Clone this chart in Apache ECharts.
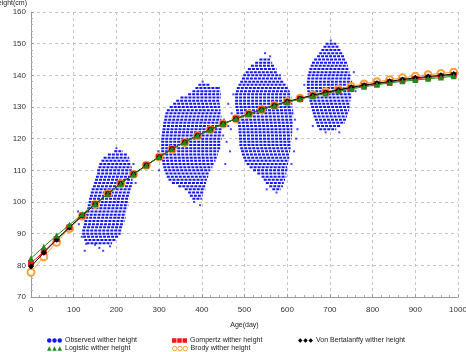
<!DOCTYPE html>
<html>
<head>
<meta charset="utf-8">
<script src="https://cdn.jsdelivr.net/npm/echarts@6/dist/echarts.min.js"></script>
<style>
  html, body { margin: 0; padding: 0; background: #fff; }
  #main { width: 466px; height: 352px; }
</style>
</head>
<body>
<div id="main"></div>
<script>
// model curves, one point every 30 days
var ages = [0, 30, 60, 90, 120, 150, 180, 210, 240, 270, 300, 330, 360, 390, 420, 450, 480,
    510, 540, 570, 600, 630, 660, 690, 720, 750, 780, 810, 840, 870, 900, 930, 960, 990]
var gompertz = [80.7, 84.3, 88.3, 92.0, 95.7, 99.3, 102.6, 105.8, 108.8, 111.6, 114.2, 116.7, 118.9, 121.0,
    122.9, 124.7, 126.3, 127.8, 129.2, 130.4, 131.6, 132.6, 133.6, 134.5, 135.3, 136.0, 136.7, 137.3,
    137.9, 138.4, 138.9, 139.3, 139.7, 140.1]
var logistic = [82.2, 85.9, 89.4, 92.8, 96.1, 99.4, 102.6, 105.7, 108.7, 111.5, 114.2, 116.7, 118.9, 121.0,
    122.9, 124.7, 126.3, 127.8, 129.2, 130.4, 131.5, 132.5, 133.4, 134.3, 135.0, 135.7, 136.4, 137.0,
    137.6, 138.1, 138.5, 138.9, 139.3, 139.7]
var bertalanffy = [79.6, 84.0, 88.1, 92.0, 95.7, 99.3, 102.6, 105.8, 108.8, 111.6, 114.2, 116.7, 118.9, 121.0,
    122.9, 124.7, 126.3, 127.8, 129.2, 130.5, 131.7, 132.7, 133.7, 134.6, 135.4, 136.2, 136.9, 137.5,
    138.1, 138.7, 139.2, 139.6, 140.0, 140.4]
var brody = [77.8, 82.7, 87.3, 91.6, 95.5, 99.2, 102.6, 105.8, 108.8, 111.6, 114.2, 116.6, 118.8, 120.9,
    122.8, 124.6, 126.3, 127.8, 129.2, 130.5, 131.7, 132.8, 133.8, 134.8, 135.7, 136.5, 137.3, 138.0,
    138.6, 139.2, 139.7, 140.2, 140.6, 141.0]

// observed heights: each row is [height, first age, last age] of a dense band of points
var visit1Rows = [
    [116, 195, 215], [115, 180, 225], [114, 170, 230], [113, 165, 232], [112, 160, 235], [111, 158, 236],
    [110, 155, 236], [109, 155, 236], [108, 152, 238], [107, 150, 238], [106, 148, 238], [105, 145, 236],
    [104, 142, 234], [103, 140, 232], [102, 138, 230], [101, 136, 230], [100, 135, 228], [99, 133, 228],
    [98, 132, 226], [97, 130, 224], [96, 128, 222], [95, 127, 222], [94, 125, 220], [93, 124, 218],
    [92, 122, 215], [91, 120, 212], [90, 120, 210], [89, 122, 205], [88, 125, 198], [87, 130, 190]
]
var visit2Rows = [
    [137, 392, 418], [136, 385, 438], [135, 378, 444], [134, 368, 445], [133, 350, 445], [132, 340, 442],
    [131, 333, 442], [130, 325, 443], [129, 318, 444], [128, 315, 444], [127, 313, 446], [126, 312, 446],
    [125, 310, 447], [124, 309, 447], [123, 308, 447], [122, 307, 447], [121, 306, 447], [120, 305, 447],
    [119, 305, 445], [118, 305, 445], [117, 305, 443], [116, 305, 440], [115, 305, 438], [114, 306, 435],
    [113, 307, 432], [112, 308, 428], [111, 310, 425], [110, 312, 420], [109, 315, 418], [108, 318, 415],
    [107, 322, 412], [106, 330, 410], [105, 345, 408], [104, 360, 408], [103, 368, 405], [102, 372, 402],
    [101, 378, 400]
]
var visit3Rows = [
    [145, 535, 560], [144, 525, 565], [143, 515, 570], [142, 508, 575], [141, 503, 578], [140, 497, 585],
    [139, 494, 588], [138, 490, 592], [137, 486, 598], [136, 482, 602], [135, 480, 606], [134, 478, 608],
    [133, 478, 610], [132, 478, 612], [131, 478, 612], [130, 479, 612], [129, 480, 614], [128, 481, 614],
    [127, 482, 614], [126, 483, 614], [125, 484, 614], [124, 485, 612], [123, 486, 612], [122, 486, 612],
    [121, 487, 611], [120, 487, 610], [119, 488, 610], [118, 488, 608], [117, 490, 608], [116, 492, 607],
    [115, 494, 606], [114, 497, 605], [113, 500, 604], [112, 505, 602], [111, 512, 600], [110, 520, 600],
    [109, 530, 598], [108, 540, 598], [107, 545, 595], [106, 550, 592], [105, 558, 590], [104, 565, 585]
]
var visit4Rows = [
    [150, 690, 715], [149, 685, 720], [148, 680, 725], [147, 675, 730], [146, 670, 735], [145, 663, 738],
    [144, 658, 740], [143, 655, 742], [142, 652, 744], [141, 650, 746], [140, 648, 748], [139, 647, 750],
    [138, 646, 752], [137, 646, 752], [136, 646, 752], [135, 647, 752], [134, 648, 750], [133, 650, 750],
    [132, 652, 748], [131, 654, 748], [130, 656, 746], [129, 658, 745], [128, 660, 742], [127, 662, 740],
    [126, 665, 738], [125, 668, 735], [124, 670, 725], [123, 675, 715]
]
// scattered single points outside the bands: [age, height]
var obsOutliers = [
    [119, 89], [129, 86.8], [150, 86.5], [126, 84.6], [169, 84.6], [160, 85.5], [185, 86], [200, 117],
    [240, 112], [245, 106], [110, 97], [112, 93],
    [440, 136], [402, 138], [452, 126], [458, 119], [462, 131], [468, 123], [455, 112], [382, 100], [396, 99],
    [300, 110], [298, 116],
    [470, 128], [474, 134], [462, 124], [450, 121], [466, 116], [548, 147], [560, 146], [552, 104], [575, 103],
    [612, 128], [618, 126], [621, 120], [616, 116], [624, 123], [610, 112],
    [702, 151], [660, 124], [690, 122], [722, 122], [756, 141], [760, 135], [640, 137]
]

var BLUE = '#1515f5'
var RED = '#f01818'
var GREEN = '#1f8a1f'
var BLACK = '#000000'
var ORANGE = '#f4a23a'
var FONT = 'Liberation Sans, Arial, sans-serif'

function zip (xs, ys) {
    return xs.map(function (x, i) { return [x, ys[i]] })
}

function renderRow (params, api) {
    var p1 = api.coord([api.value(1), api.value(0)])
    var p2 = api.coord([api.value(2), api.value(0)])
    return {
        type: 'line',
        shape: {x1: p1[0], y1: p1[1], x2: p2[0], y2: p2[1]},
        style: {stroke: BLUE, lineWidth: 2, lineDash: [3, 1]}
    }
}

function rowSeries (rows) {
    return {
        name: 'Observed wither height',
        type: 'custom',
        renderItem: renderRow,
        encode: {x: [1, 2], y: 0},
        itemStyle: {color: BLUE},
        silent: true,
        z: 1,
        data: rows
    }
}

function curveSeries (name, values, symbol, size, color, z) {
    return {
        name: name,
        type: 'line',
        data: zip(ages, values),
        symbol: symbol,
        symbolSize: size,
        showAllSymbol: true,
        lineStyle: {width: 1, color: color},
        itemStyle: {color: color},
        z: z
    }
}

var ICON_CIRCLES = 'path://M0,3a3,3 0 1,0 6,0a3,3 0 1,0 -6,0Z M7,3a3,3 0 1,0 6,0a3,3 0 1,0 -6,0Z M14,3a3,3 0 1,0 6,0a3,3 0 1,0 -6,0Z'
var ICON_SQUARES = 'path://M0,0h6v6h-6Z M7,0h6v6h-6Z M14,0h6v6h-6Z'
var ICON_TRIANGLES = 'path://M3,0L6,6L0,6Z M10,0L13,6L7,6Z M17,0L20,6L14,6Z'
var ICON_DIAMONDS = 'path://M3,0L6,3L3,6L0,3Z M10,0L13,3L10,6L7,3Z M17,0L20,3L17,6L14,3Z'

function legendAt (left, top, item) {
    return {
        left: left,
        top: top,
        itemWidth: 15,
        itemHeight: 5,
        padding: 0,
        textStyle: {fontSize: 7, fontFamily: FONT, color: '#222', padding: [0, 0, 0, -2]},
        data: [item]
    }
}

var chart = echarts.init(document.getElementById('main'))
chart.setOption({
    animation: false,
    backgroundColor: '#ffffff',
    grid: {left: 31, right: 8, top: 12, bottom: 55, outerBoundsMode: 'none'},
    legend: [
        legendAt(47, 337, {name: 'Observed wither height', icon: ICON_CIRCLES}),
        legendAt(172, 337, {name: 'Gompertz wither height', icon: ICON_SQUARES}),
        legendAt(298, 337, {name: 'Von Bertalanffy wither height', icon: ICON_DIAMONDS}),
        legendAt(47, 345, {name: 'Logistic wither height', icon: ICON_TRIANGLES}),
        legendAt(172, 345, {name: 'Brody wither height', icon: ICON_CIRCLES,
            itemStyle: {color: '#ffffff', borderColor: ORANGE, borderWidth: 1}})
    ],
    xAxis: {
        type: 'value',
        min: 0,
        max: 1000,
        interval: 100,
        name: 'Age(day)',
        nameLocation: 'middle',
        nameGap: 25,
        nameTextStyle: {fontSize: 7, fontFamily: FONT, color: '#222'},
        axisLine: {lineStyle: {color: '#9a9a9a'}},
        axisTick: {show: true, inside: true, length: 3, lineStyle: {color: '#9a9a9a'}},
        minorTick: {show: true, splitNumber: 5, length: 2, lineStyle: {color: '#b0b0b0'}},
        axisLabel: {fontSize: 8, fontFamily: FONT, color: '#333', margin: 9,
            formatter: function (v) { return String(v) }},
        splitLine: {show: true, lineStyle: {color: '#c4c4c4', type: [3, 3]}}
    },
    yAxis: {
        type: 'value',
        min: 70,
        max: 160,
        interval: 10,
        name: 'Height(cm)',
        nameGap: 5,
        nameTextStyle: {fontSize: 7, fontFamily: FONT, color: '#222', align: 'right', padding: [0, 4, 0, 0]},
        axisLine: {show: true, lineStyle: {color: '#9a9a9a'}},
        axisTick: {show: true, inside: true, length: 3, lineStyle: {color: '#9a9a9a'}},
        minorTick: {show: true, splitNumber: 5, length: 2, lineStyle: {color: '#b0b0b0'}},
        axisLabel: {fontSize: 8, fontFamily: FONT, color: '#333', margin: 5},
        splitLine: {show: true, lineStyle: {color: '#c4c4c4', type: [3, 3]}}
    },
    series: [
        rowSeries(visit1Rows),
        rowSeries(visit2Rows),
        rowSeries(visit3Rows),
        rowSeries(visit4Rows),
        {
            name: 'Observed wither height',
            type: 'scatter',
            symbol: 'rect',
            symbolSize: 2,
            itemStyle: {color: BLUE},
            z: 1,
            data: obsOutliers
        },
        {
            name: 'Brody wither height',
            type: 'line',
            data: zip(ages, brody),
            symbol: 'emptyCircle',
            symbolSize: 7,
            showAllSymbol: true,
            lineStyle: {width: 1, color: ORANGE},
            itemStyle: {color: ORANGE, borderWidth: 1.5},
            z: 3
        },
        curveSeries('Gompertz wither height', gompertz, 'rect', 6, RED, 4),
        curveSeries('Von Bertalanffy wither height', bertalanffy, 'diamond', 6, BLACK, 5),
        curveSeries('Logistic wither height', logistic, 'triangle', 6, GREEN, 6)
    ]
})
</script>
</body>
</html>
